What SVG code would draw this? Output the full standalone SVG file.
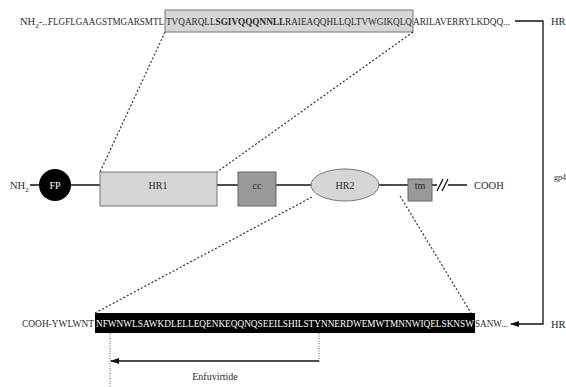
<svg xmlns="http://www.w3.org/2000/svg" width="566" height="387" viewBox="0 0 566 387" font-family="'Liberation Serif', 'DejaVu Serif', serif">
<style>
text{font-family:'Liberation Serif','DejaVu Serif',serif;fill:#2a2a2a;font-size:10.5px}
.seq{font-size:10.5px}
.lbl{font-size:10px;text-anchor:middle}
.ln{stroke:#111;stroke-width:1.3;fill:none}
.dash{stroke:#333;stroke-width:1.2;stroke-dasharray:2,2;fill:none}
.dot{stroke:#555;stroke-width:1;stroke-dasharray:1,1.5;fill:none}
</style>
<defs>
<marker id="ah" markerWidth="9" markerHeight="6" refX="8" refY="3" orient="auto" markerUnits="userSpaceOnUse">
<path d="M0,0 L9,3 L0,6 Z" fill="#111"/>
</marker>
</defs>
<rect width="566" height="387" fill="#fff"/>

<g id="top-sequence">
<rect x="165" y="10" width="248" height="22" fill="#d6d6d6" stroke="#777" stroke-width="1"/>
<text x="20" y="25" class="seq">NH<tspan font-size="7" dy="3">2</tspan><tspan dy="-3">-...</tspan></text>
<text x="48" y="25" class="seq" textLength="116" lengthAdjust="spacingAndGlyphs">FLGFLGAAGSTMGARSMTL</text>
<text x="166" y="25" class="seq" textLength="246" lengthAdjust="spacingAndGlyphs">TVQARQLL<tspan font-weight="bold">SGIVQQQNNLL</tspan>RAIEAQQHLLQLTVWGIKQLQ</text>
<text x="413" y="25" class="seq" textLength="97" lengthAdjust="spacingAndGlyphs">ARILAVERRYLKDQQ...</text>
</g>

<g id="connectors">
<line x1="165" y1="32" x2="100" y2="172" class="dash"/>
<line x1="413" y1="32" x2="217" y2="172" class="dash"/>
<line x1="312" y1="197" x2="95" y2="313" class="dash"/>
<line x1="400" y1="196" x2="471" y2="313" class="dash"/>
<line x1="30" y1="185" x2="467" y2="185" class="ln"/>
<path d="M515,21 H543 V324 H511" class="ln" marker-end="url(#ah)"/>
<line x1="110" y1="333" x2="110" y2="387" class="dot"/>
<line x1="319" y1="333" x2="319" y2="362" class="dot"/>
<line x1="319" y1="361" x2="111" y2="361" class="ln" marker-end="url(#ah)"/>
</g>

<g id="nh2"><text x="10" y="189" class="seq">NH<tspan font-size="7" dy="3">2</tspan></text></g>
<g id="fp">
<circle cx="55" cy="185" r="16" fill="#000"/>
<text x="55" y="189" class="lbl" style="fill:#fff">FP</text>
</g>
<g id="hr1">
<rect x="100" y="172" width="117" height="34" fill="#d6d6d6" stroke="#777" stroke-width="1"/>
<text x="158" y="189" class="lbl">HR1</text>
</g>
<g id="cc">
<rect x="238" y="172" width="38" height="34" fill="#999" stroke="#666" stroke-width="1"/>
<text x="257" y="189" class="lbl">cc</text>
</g>
<g id="hr2">
<ellipse cx="345" cy="185" rx="34" ry="16" fill="#d6d6d6" stroke="#777" stroke-width="1"/>
<text x="345" y="189" class="lbl">HR2</text>
</g>
<g id="tm">
<rect x="408" y="179" width="24" height="22" fill="#999" stroke="#666" stroke-width="1"/>
<text x="420" y="189" class="lbl">tm</text>
</g>
<g id="break">
<rect x="437" y="178" width="11" height="14" fill="#fff"/>
<line x1="437" y1="191" x2="443" y2="179" class="ln"/>
<line x1="442" y1="191" x2="448" y2="179" class="ln"/>
</g>
<g id="cooh"><text x="474" y="189" class="seq">COOH</text></g>

<g id="bottom-sequence">
<rect x="95" y="313" width="380" height="20" fill="#000"/>
<text x="22" y="327" class="seq" textLength="72" lengthAdjust="spacingAndGlyphs">COOH-YWLWNT</text>
<text x="96" y="327" class="seq" style="fill:#fff" textLength="378" lengthAdjust="spacingAndGlyphs">NFWNWLSAWKDLELLEQENKEQQNQSEEILSHILSTYNNERDWEMWTMNNWIQELSKNSW</text>
<text x="475" y="327" class="seq" textLength="33" lengthAdjust="spacingAndGlyphs">SANW...</text>
</g>

<g id="enfuvirtide"><text x="215" y="380" class="lbl">Enfuvirtide</text></g>
<g id="side-labels">
<text x="551" y="25" class="seq">HR1</text>
<text x="554" y="180" style="font-size:8px">gp41</text>
<text x="551" y="328" class="seq">HR2</text>
</g>
</svg>
